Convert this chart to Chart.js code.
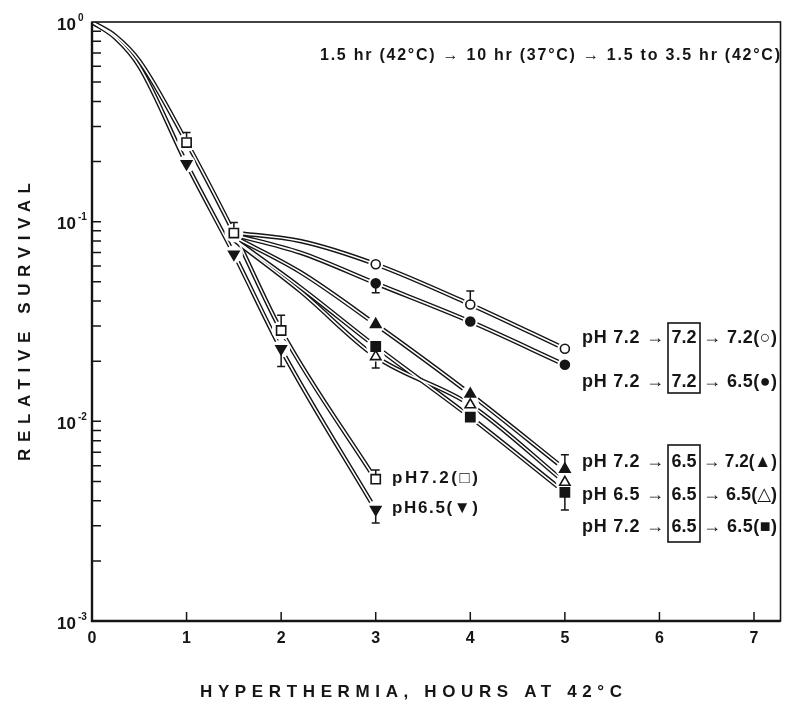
<!DOCTYPE html>
<html>
<head>
<meta charset="utf-8">
<script src="https://cdn.jsdelivr.net/npm/chart.js@4.4.0/dist/chart.umd.min.js"></script>
<style>
  html, body { margin: 0; padding: 0; background: #fff; }
</style>
</head>
<body>
<canvas id="c" width="790" height="705"></canvas>
<script>
// ---- data ----
const xTicks = [0, 1, 2, 3, 4, 5, 6, 7];
const yDecades = [1, 0.1, 0.01, 0.001];
const yDecadeExp = ['0', '-1', '-2', '-3'];

// single exposure: markers
const singleHours = [1, 1.5, 2, 3];
const ph72Single = [0.249, 0.0877, 0.0285, 0.00513];   // open square
const ph65Single = [0.195, 0.0687, 0.0231, 0.00362];   // filled down triangle
const ph72SingleErr = [0.28, 0.099, 0.034, 0.0057];
const ph65SingleErr = [null, null, 0.0188, 0.0031];

// single exposure: fitted curves
const singleCurveHours = [0, 0.25, 0.5, 1, 1.5, 2, 3];
const ph72Curve = [1, 0.85, 0.64, 0.25, 0.088, 0.0285, 0.0051];
const ph65Curve = [1, 0.83, 0.60, 0.195, 0.069, 0.023, 0.0036];

// sequence 1.5 hr -> 10 hr (37C) -> 1.5 to 3.5 hr: markers
const seqHours = [3, 4, 5];
const s72_72_72 = [0.0612, 0.0385, 0.0231];  // open circle
const s72_72_65 = [0.0491, 0.0316, 0.0192];  // filled circle
const s72_65_72 = [0.0306, 0.0137, 0.00576]; // filled triangle
const s65_65_65 = [0.0211, 0.0121, 0.00495]; // open triangle
const s72_65_65 = [0.0237, 0.0105, 0.00441]; // filled square
const s72_72_72Err = [null, 0.045, null];
const s72_72_65Err = [0.044, null, null];
const s72_65_72Err = [null, null, 0.0068];
const s65_65_65Err = [0.0185, null, 0.0036];

// sequence: fitted curves
const seqCurveHours = [1.5, 2.2, 3, 4, 5];
const c72_72_72 = [0.088, 0.080, 0.0612, 0.0385, 0.0231];
const c72_72_65 = [0.086, 0.070, 0.0491, 0.0316, 0.0192];
const c72_65_72 = [0.084, 0.056, 0.0306, 0.0137, 0.00576];
const c65_65_65 = [0.081, 0.045, 0.0211, 0.0121, 0.00495];
const c72_65_65 = [0.082, 0.047, 0.0237, 0.0105, 0.00441];

// label rows on the right: before box, boxed value, after box
const rowPre = ['pH 7.2 \u2192', 'pH 7.2 \u2192', 'pH 7.2 \u2192', 'pH 6.5 \u2192', 'pH 7.2 \u2192'];
const rowBox = ['7.2', '7.2', '6.5', '6.5', '6.5'];
const rowPost = ['\u2192 7.2(\u25CB)', '\u2192 6.5(\u25CF)', '\u2192 7.2(\u25B2)', '\u2192 6.5(\u25B3)', '\u2192 6.5(\u25A0)'];

const ink = '#151515';
const FONT = '"Liberation Sans", "DejaVu Sans", sans-serif';

function pts(xs, ys) {
  return xs.map((x, i) => ({ x: x, y: ys[i] }));
}

const datasets = [];
const errorBars = [];

function addCurve(xs, ys) {
  const data = pts(xs, ys);
  datasets.push({ data, showLine: true, borderColor: ink, borderWidth: 4.4, pointRadius: 0,
    cubicInterpolationMode: 'monotone', order: 10 });
  datasets.push({ data, showLine: true, borderColor: '#fff', borderWidth: 1.6, pointRadius: 0,
    cubicInterpolationMode: 'monotone', order: 9 });
}

function addMarkers(xs, ys, style, filled, rot, r, errs) {
  const data = pts(xs, ys);
  // white halo so the curves stop short of each symbol
  datasets.push({ data, pointRadius: r + 3, pointStyle: 'circle', pointBackgroundColor: '#fff',
    pointBorderWidth: 0, pointBorderColor: '#fff', order: 2 });
  datasets.push({ data, pointRadius: r, pointStyle: style, pointRotation: rot,
    pointBackgroundColor: filled ? ink : '#fff', pointBorderColor: ink, pointBorderWidth: 1.6, order: 1 });
  if (errs) {
    xs.forEach((x, i) => {
      if (errs[i] != null) errorBars.push({ x: x, y: ys[i], end: errs[i], r: r });
    });
  }
}

addCurve(singleCurveHours, ph72Curve);
addCurve(singleCurveHours, ph65Curve);
addCurve(seqCurveHours, c72_72_72);
addCurve(seqCurveHours, c72_72_65);
addCurve(seqCurveHours, c72_65_72);
addCurve(seqCurveHours, c65_65_65);
addCurve(seqCurveHours, c72_65_65);

addMarkers(singleHours, ph72Single, 'rect', false, 0, 6.5, ph72SingleErr);
addMarkers(singleHours, ph65Single, 'triangle', true, 180, 6, ph65SingleErr);
addMarkers(seqHours, s72_72_72, 'circle', false, 0, 4.5, s72_72_72Err);
addMarkers(seqHours, s72_72_65, 'circle', true, 0, 4.5, s72_72_65Err);
addMarkers(seqHours, s72_65_72, 'triangle', true, 0, 6, s72_65_72Err);
addMarkers(seqHours, s65_65_65, 'triangle', false, 0, 6, s65_65_65Err);
addMarkers(seqHours, s72_65_65, 'rect', true, 0, 6.5, null);

// stretch text to a given width (letter spacing, or squeeze if too wide)
function fitText(ctx, text, x, y, w) {
  ctx.letterSpacing = '0px';
  const n = [...text].length;
  const natural = ctx.measureText(text).width;
  if (natural < w && n > 1) {
    ctx.letterSpacing = ((w - natural) / (n - 1)) + 'px';
    ctx.fillText(text, x, y);
    ctx.letterSpacing = '0px';
  } else {
    ctx.save();
    ctx.translate(x, y);
    ctx.scale(w / natural, 1);
    ctx.fillText(text, 0, 0);
    ctx.restore();
  }
}

const figurePlugin = {
  id: 'figure',
  afterDatasetsDraw(chart) {
    const { ctx, scales: { x, y } } = chart;
    ctx.save();
    ctx.strokeStyle = ink;
    ctx.lineWidth = 1.5;
    errorBars.forEach(e => {
      const px = x.getPixelForValue(e.x);
      const p0 = y.getPixelForValue(e.y);
      const p1 = y.getPixelForValue(e.end);
      const dir = p1 < p0 ? -1 : 1;
      ctx.beginPath();
      ctx.moveTo(px, p0 + dir * e.r * 0.8);
      ctx.lineTo(px, p1);
      ctx.moveTo(px - 4, p1);
      ctx.lineTo(px + 4, p1);
      ctx.stroke();
    });
    ctx.restore();
  },
  afterDraw(chart) {
    const { ctx, chartArea: a, scales: { x, y } } = chart;
    ctx.save();
    ctx.strokeStyle = ink;
    ctx.fillStyle = ink;

    // frame
    ctx.lineWidth = 1.6;
    ctx.strokeRect(a.left, a.top, a.right - a.left, a.bottom - a.top);
    ctx.lineWidth = 2.4;
    ctx.beginPath();
    ctx.moveTo(a.left, a.top);
    ctx.lineTo(a.left, a.bottom);
    ctx.lineTo(a.right, a.bottom);
    ctx.stroke();

    // inside ticks
    ctx.lineWidth = 1.5;
    ctx.beginPath();
    for (let k = 1; k <= 3; k++) {
      for (let m = 1; m <= 9; m++) {
        const py = y.getPixelForValue(m * Math.pow(10, -k));
        ctx.moveTo(a.left, py);
        ctx.lineTo(a.left + 9, py);
      }
    }
    xTicks.slice(1).forEach(v => {
      const px = x.getPixelForValue(v);
      ctx.moveTo(px, a.bottom);
      ctx.lineTo(px, a.bottom - 9);
    });
    ctx.stroke();

    // decade labels
    ctx.textBaseline = 'middle';
    yDecades.forEach((v, i) => {
      const py = y.getPixelForValue(v);
      ctx.font = 'bold 17px ' + FONT;
      ctx.textAlign = 'right';
      ctx.fillText('10', a.left - 16, py + 3);
      ctx.font = 'bold 10px ' + FONT;
      ctx.textAlign = 'left';
      ctx.fillText(yDecadeExp[i], a.left - 14, py - 4);
    });

    // axis titles
    ctx.textAlign = 'left';
    ctx.font = 'bold 17px ' + FONT;
    fitText(ctx, 'HYPERTHERMIA, HOURS AT 42\u00B0C', 200, 692, 422);
    ctx.save();
    ctx.translate(25, 322);
    ctx.rotate(-Math.PI / 2);
    fitText(ctx, 'RELATIVE SURVIVAL', -139, 0, 278);
    ctx.restore();

    // treatment note
    ctx.font = 'bold 16px ' + FONT;
    fitText(ctx, '1.5 hr (42\u00B0C) \u2192 10 hr (37\u00B0C) \u2192 1.5 to 3.5 hr (42\u00B0C)', 320, 56, 460);

    // single exposure labels
    ctx.font = 'bold 17px ' + FONT;
    fitText(ctx, 'pH7.2(\u25A1)', 392, 478, 86);
    fitText(ctx, 'pH6.5(\u25BC)', 392, 508, 86);

    // sequence labels with boxed middle step
    const rowY = [338, 382, 462, 495, 527];
    rowY.forEach((ry, i) => {
      ctx.font = 'bold 18px ' + FONT;
      ctx.textAlign = 'left';
      fitText(ctx, rowPre[i], 582, ry, 82);
      ctx.textAlign = 'center';
      ctx.fillText(rowBox[i], 684, ry);
      ctx.textAlign = 'left';
      fitText(ctx, rowPost[i], 703, ry, 74);
    });
    ctx.lineWidth = 1.6;
    ctx.strokeRect(668, 323, 32, 70);
    ctx.strokeRect(668, 445, 32, 97);
    ctx.restore();
  }
};

new Chart(document.getElementById('c'), {
  type: 'scatter',
  data: { datasets },
  options: {
    responsive: false,
    animation: false,
    devicePixelRatio: 1,
    layout: { padding: { left: 0, top: 22, right: 8, bottom: 0 } },
    plugins: { legend: { display: false }, tooltip: { enabled: false } },
    scales: {
      x: {
        type: 'linear', min: 0, max: 7.28,
        afterBuildTicks: s => { s.ticks = xTicks.map(v => ({ value: v })); },
        afterFit: s => { s.height = 84; },
        grid: { display: false, drawTicks: false },
        border: { display: false },
        ticks: {
          padding: 8, color: ink, autoSkip: false, maxRotation: 0,
          font: { family: FONT, weight: 'bold', size: 16 },
          callback: v => String(v)
        }
      },
      y: {
        type: 'logarithmic', min: 0.001, max: 1,
        afterFit: s => { s.width = 92; },
        grid: { display: false, drawTicks: false },
        border: { display: false },
        ticks: { display: false }
      }
    }
  },
  plugins: [figurePlugin]
});
</script>
</body>
</html>
